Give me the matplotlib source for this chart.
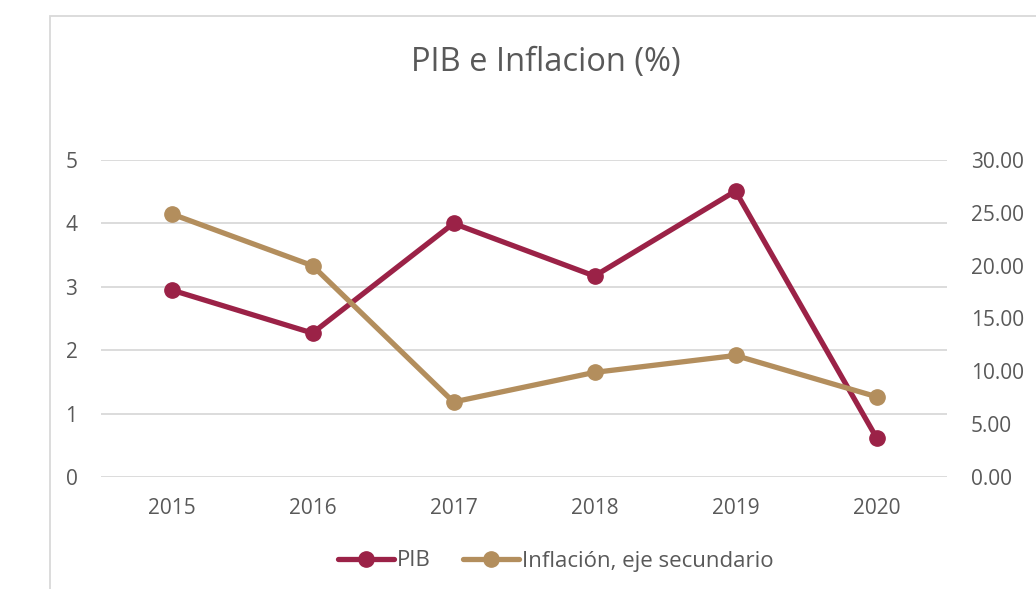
import matplotlib

matplotlib.use("Agg")
import matplotlib.pyplot as plt
from matplotlib.patches import Rectangle
from matplotlib.lines import Line2D

plt.rcParams["font.family"] = ["Open Sans", "DejaVu Sans"]

_PIB_COLOR = "#9B2247"
_INF_COLOR = "#B38E5D"
_TEXT_COLOR = "#595959"
_GRID_COLOR = "#D9D9D9"

years = ["2015", "2016", "2017", "2018", "2019", "2020"]
pib = [2.95, 2.27, 4.0, 3.17, 4.51, 0.62]
inflacion = [24.9, 20.0, 7.1, 9.9, 11.5, 7.6]
left_ticks = [0, 1, 2, 3, 4, 5]
right_ticks = [0, 5, 10, 15, 20, 25, 30]

fig = plt.figure(figsize=(10.36, 5.89), dpi=100)
ax = fig.add_axes([101 / 1036, 1 - 477 / 589, 846 / 1036, 317 / 589])
ax2 = ax.twinx()

# chart frame, cut by the picture edge on the right and bottom
fig.patches.append(
    Rectangle(
        (50 / 1036, -0.2),
        2.0,
        1.2 - 16 / 589,
        transform=fig.transFigure,
        fill=False,
        edgecolor=_GRID_COLOR,
        linewidth=1.3,
    )
)

xs = range(len(years))
line_kw = dict(linewidth=3.8, marker="o", markersize=11, solid_capstyle="round")
ax.plot(xs, pib, color=_PIB_COLOR, zorder=3, **line_kw)
ax2.plot(xs, inflacion, color=_INF_COLOR, zorder=3, **line_kw)

ax.set_xlim(-0.5, len(years) - 0.5)
ax.set_ylim(0, 5)
ax2.set_ylim(0, 30)
ax.set_xticks(list(xs), years)
ax.set_yticks(left_ticks)
ax2.set_yticks(right_ticks, [f"{v:.2f}" for v in right_ticks])

ax.grid(axis="y", color=_GRID_COLOR, linewidth=1.3)
ax.set_axisbelow(True)
for a in (ax, ax2):
    for s in a.spines.values():
        s.set_visible(False)
    a.tick_params(length=0, labelsize=15, labelcolor=_TEXT_COLOR)
ax.tick_params(axis="y", pad=17)
ax2.tick_params(axis="y", pad=17)
ax.tick_params(axis="x", pad=15)

fig.text(546 / 1036, 1 - 62 / 589, "PIB e Inflacion (%)", ha="center",
         va="center", fontsize=23.5, color=_TEXT_COLOR)

handles = [
    Line2D([], [], color=_PIB_COLOR, **line_kw),
    Line2D([], [], color=_INF_COLOR, **line_kw),
]
fig.legend(handles, ["PIB", "Inflación, eje secundario"], loc="center",
           bbox_to_anchor=(556 / 1036, 1 - 561 / 589), ncol=2, frameon=False,
           fontsize=16, labelcolor=_TEXT_COLOR, handlelength=2.5,
           handletextpad=0.15, columnspacing=1.45)

fig.savefig("out.png", dpi=100)
